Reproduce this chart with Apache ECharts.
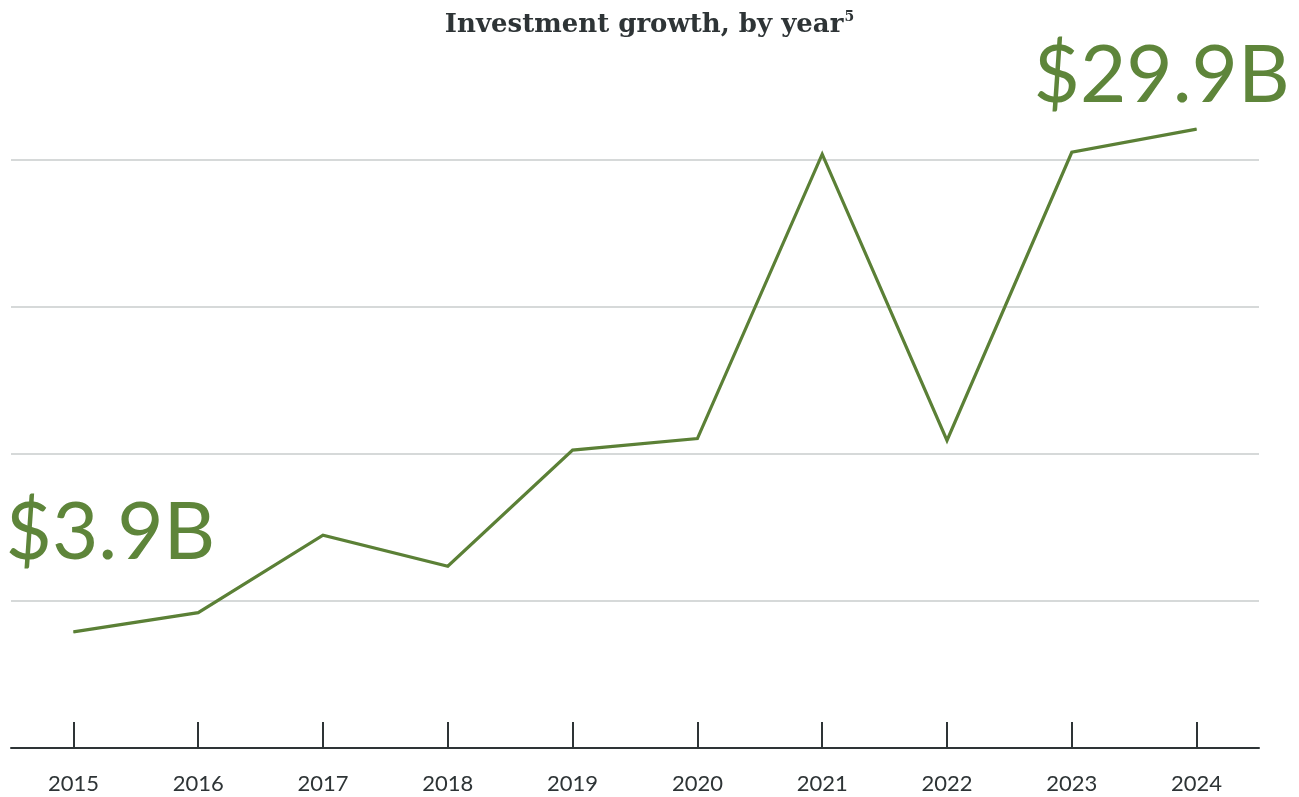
<!DOCTYPE html>
<html>
<head>
<meta charset="utf-8">
<title>Investment growth, by year</title>
<script src="https://cdn.jsdelivr.net/npm/echarts@6/dist/echarts.min.js"></script>
<style>
  html, body { margin: 0; padding: 0; background: #ffffff; }
  #chart { width: 1299px; height: 797px; }
</style>
</head>
<body>
<div id="chart"></div>
<script>
// Annual investment, billions of US dollars
const years = ['2015', '2016', '2017', '2018', '2019', '2020', '2021', '2022', '2023', '2024'];
const investment = [3.9, 4.9, 8.9, 7.3, 13.3, 13.9, 28.6, 13.8, 28.7, 29.9];

// Value range of the plotted line and spacing of the horizontal rules
const valueMin = -2.1;
const ruleStep = 7.6;
const ruleCount = 5;

const green = '#5b8036';
const ink = '#2e3436';

// Only the first and last years carry a large value callout
const calloutOffsets = { 0: [37, -53], 9: [-35, -7] };

const seriesData = investment.map((v, i) => {
  const item = { value: v };
  if (calloutOffsets[i]) {
    item.label = {
      show: true,
      position: 'top',
      offset: calloutOffsets[i],
      formatter: () => '$' + v.toFixed(1) + 'B',
      color: '#5e853a',
      fontFamily: 'Lato',
      fontSize: 80,
      fontWeight: 'normal'
    };
  }
  return item;
});

const chart = echarts.init(document.getElementById('chart'), null, { renderer: 'canvas' });

chart.setOption({
  animation: false,
  backgroundColor: '#ffffff',
  title: {
    text: '{t|Investment growth, by year}{s|5}',
    left: 'center',
    top: 5,
    textStyle: {
      rich: {
        t: { fontFamily: 'DejaVu Serif', fontWeight: 'bold', fontSize: 26, color: ink, lineHeight: 31 },
        s: { fontFamily: 'DejaVu Serif', fontWeight: 'bold', fontSize: 14, color: ink, verticalAlign: 'top', lineHeight: 31, padding: [0, 0, 10, 1] }
      }
    }
  },
  grid: {
    left: 11,
    right: 40,
    top: 13,
    bottom: 49,
    containLabel: false,
    outerBoundsMode: 'none'
  },
  xAxis: {
    type: 'category',
    data: years,
    boundaryGap: true,
    axisLine: { show: true, onZero: false, lineStyle: { color: ink, width: 2 } },
    axisTick: { show: true, inside: true, length: 26, alignWithLabel: true, lineStyle: { color: ink, width: 2 } },
    axisLabel: { color: ink, fontFamily: 'Lato', fontSize: 22, margin: 25 },
    splitLine: { show: false }
  },
  yAxis: [
    {
      type: 'value',
      min: valueMin,
      max: valueMin + ruleStep * ruleCount,
      axisLine: { show: false },
      axisTick: { show: false },
      axisLabel: { show: false },
      splitLine: { show: false }
    },
    {
      // horizontal rules, one per step of the value range
      type: 'value',
      min: 0,
      max: ruleCount,
      interval: 1,
      position: 'left',
      axisLine: { show: false },
      axisTick: { show: false },
      axisLabel: { show: false },
      splitLine: { show: true, showMinLine: false, showMaxLine: false, lineStyle: { color: '#c9cccd', width: 1.5 } }
    }
  ],
  series: [
    {
      type: 'line',
      yAxisIndex: 0,
      data: seriesData,
      symbol: 'circle',
      symbolSize: 1,
      showSymbol: true,
      itemStyle: { color: green },
      lineStyle: { color: green, width: 3.2, join: 'miter', miterLimit: 10 },
      emphasis: { disabled: true },
      z: 5
    }
  ]
});
</script>
</body>
</html>
